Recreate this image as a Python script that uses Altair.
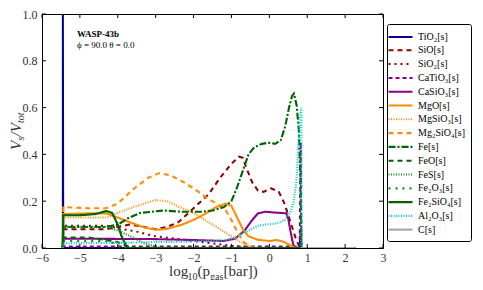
import altair as alt
import pandas as pd

names = ["TiO₂[s]", "SiO[s]", "SiO₂[s]", "CaTiO₃[s]", "CaSiO₃[s]", "MgO[s]", "MgSiO₃[s]",
         "Mg₂SiO₄[s]", "Fe[s]", "FeO[s]", "FeS[s]", "Fe₂O₃[s]", "Fe₂SiO₄[s]", "Al₂O₃[s]", "C[s]"]
colors = ["#000088", "#8b0000", "#8b0000", "#8b008b", "#8b008b", "#ff8c00", "#ff8c00",
          "#ff8c00", "#006400", "#006400", "#1a8a1a", "#1a8a1a", "#006400", "#00cccc", "#aaaaaa"]
dashes = [[1, 0], [5, 4], [2, 4], [4, 3], [1, 0], [1, 0], [1, 1.5],
          [5, 4], [7, 2, 2, 2], [5, 4], [1, 1.5], [2, 5], [1, 0], [1, 1.5], [1, 0]]
widths = [2, 2.2, 2.2, 2, 2, 2, 1.2, 2.2, 2.5, 2.2, 1.2, 1.8, 2, 1.3, 2]

x_TiO2 = [-5.45, -5.449, -5.44, 0.8, 0.83, 0.84, 0.85, 2.27]
y_TiO2 = [0, 1.0, 0, 0, 0.08, 0, 0, 0]
x_SiO = [-5.45, -5.44, -4.8, -4.3, -4.0, -3.7, -3.3, -3.0, -2.7, -2.4, -2.0, -1.6, -1.3, -1.0,
         -0.8, -0.7, -0.6, -0.45, -0.3, -0.15, 0.05, 0.25, 0.4, 0.5, 0.6, 0.7, 0.78, 0.84, 2.27]
y_SiO = [0, 0.08, 0.08, 0.08, 0.09, 0.1, 0.09, 0.08, 0.09, 0.11, 0.17, 0.23, 0.3, 0.36,
         0.39, 0.385, 0.34, 0.28, 0.245, 0.24, 0.255, 0.24, 0.19, 0.14, 0.09, 0.04, 0.01, 0, 0]
x_SiO2 = [-5.45, -5.44, -4.3, -4.0, -3.5, -3.0, -2.5, -2.0, -1.5, -1.0, -0.7, -0.5, 2.27]
y_SiO2 = [0, 0.095, 0.095, 0.085, 0.07, 0.05, 0.04, 0.03, 0.02, 0.01, 0.003, 0, 0]
x_CaTiO3 = [-5.45, -5.44, 0.75, 0.8, 0.83, 0.845, 0.86, 2.27]
y_CaTiO3 = [0, 0.006, 0.006, 0.003, 0.45, 0, 0, 0]
x_CaSiO3 = [-5.45, -5.44, -3.0, -2.0, -1.2, -0.9, -0.65, -0.45, -0.3, -0.1, 0.1, 0.3, 0.45,
            0.5, 0.56, 0.63, 0.68, 2.27]
y_CaSiO3 = [0, 0.04, 0.038, 0.034, 0.03, 0.04, 0.075, 0.12, 0.148, 0.155, 0.152, 0.15, 0.148,
            0.125, 0.07, 0.015, 0, 0]
x_MgO = [-5.45, -5.44, -4.8, -4.3, -4.0, -3.6, -3.3, -3.0, -2.7, -2.3, -2.0, -1.7, -1.4, -1.15,
         -1.0, -0.85, -0.7, -0.55, -0.3, 0.0, 0.2, 0.4, 0.55, 0.65, 0.7, 2.27]
y_MgO = [0, 0.145, 0.148, 0.148, 0.13, 0.105, 0.088, 0.078, 0.082, 0.1, 0.12, 0.145, 0.175, 0.19,
         0.18, 0.13, 0.08, 0.05, 0.035, 0.03, 0.034, 0.025, 0.012, 0.003, 0, 0]
x_MgSiO3 = [-5.45, -5.44, -4.3, -4.0, -3.5, -3.0, -2.7, -2.3, -2.0, -1.7, -1.3, -1.0, -0.8,
            -0.6, -0.4, 2.27]
y_MgSiO3 = [0, 0.13, 0.13, 0.15, 0.18, 0.205, 0.2, 0.17, 0.15, 0.12, 0.08, 0.05, 0.03,
            0.012, 0, 0]
x_Mg2SiO4 = [-5.45, -5.44, -4.8, -4.3, -4.0, -3.6, -3.2, -2.9, -2.6, -2.3, -2.0, -1.7, -1.4,
             -1.15, -1.0, -0.85, -0.7, -0.55, -0.4, 2.27]
y_Mg2SiO4 = [0, 0.175, 0.17, 0.17, 0.19, 0.25, 0.3, 0.32, 0.31, 0.285, 0.255, 0.22, 0.19,
             0.16, 0.12, 0.07, 0.03, 0.008, 0, 0]
x_Fe = [-5.45, -5.44, -4.3, -4.0, -3.7, -3.4, -3.1, -2.8, -2.3, -1.8, -1.5, -1.2, -1.0, -0.85,
        -0.7, -0.55, -0.4, -0.2, 0.0, 0.15, 0.3, 0.42, 0.52, 0.6, 0.65, 0.72, 0.78, 0.82, 0.85, 2.27]
y_Fe = [0, 0.09, 0.09, 0.1, 0.13, 0.15, 0.155, 0.16, 0.155, 0.155, 0.16, 0.175, 0.2, 0.26,
        0.33, 0.4, 0.43, 0.445, 0.45, 0.445, 0.46, 0.52, 0.6, 0.65, 0.66, 0.61, 0.5, 0.3, 0, 0]
x_FeO = [-5.45, -5.44, -4.8, -4.3, -4.0, -3.8, -3.65, 2.27]
y_FeO = [0, 0.045, 0.045, 0.035, 0.025, 0.01, 0, 0]
x_FeS = [-5.45, -5.44, -4.3, -4.0, -3.6, -3.3, -3.0, -2.8, 2.27]
y_FeS = [0, 0.09, 0.09, 0.075, 0.045, 0.02, 0.005, 0, 0]
x_Fe2O3 = [-5.45, -5.44, -4.6, -4.2, -4.0, -3.9, 2.27]
y_Fe2O3 = [0, 0.03, 0.03, 0.028, 0.012, 0, 0]
x_Fe2SiO4 = [-5.45, -5.44, -5.0, -4.6, -4.3, -4.15, -4.0, -3.9, -3.8, -3.7, 2.27]
y_Fe2SiO4 = [0, 0.14, 0.14, 0.145, 0.158, 0.15, 0.1, 0.05, 0.015, 0, 0]
x_Al2O3 = [-5.45, -5.44, -4.0, -3.0, -2.0, -1.2, -0.9, -0.6, -0.3, -0.1, 0.2, 0.4, 0.55, 0.65,
           0.72, 0.78, 0.82, 0.845, 0.85, 2.27]
y_Al2O3 = [0, 0.02, 0.022, 0.025, 0.028, 0.032, 0.045, 0.07, 0.095, 0.1, 0.105, 0.12, 0.15, 0.2,
           0.3, 0.48, 0.58, 0.6, 0, 0]
x_C = [0.84, 2.27]
y_C = [0, 0]

series_x = [x_TiO2, x_SiO, x_SiO2, x_CaTiO3, x_CaSiO3, x_MgO, x_MgSiO3, x_Mg2SiO4, x_Fe,
            x_FeO, x_FeS, x_Fe2O3, x_Fe2SiO4, x_Al2O3, x_C]
series_y = [y_TiO2, y_SiO, y_SiO2, y_CaTiO3, y_CaSiO3, y_MgO, y_MgSiO3, y_Mg2SiO4, y_Fe,
            y_FeO, y_FeS, y_Fe2O3, y_Fe2SiO4, y_Al2O3, y_C]

rows = []
for k, (n, xs, ys) in enumerate(zip(names, series_x, series_y)):
    for i, (a, b) in enumerate(zip(xs, ys)):
        rows.append({"species": n, "x": a, "y": b, "i": i, "k": k})
df = pd.DataFrame(rows)

x_ticks = [-6, -5, -4, -3, -2, -1, 0, 1, 2, 3]
y_ticks = [0.0, 0.2, 0.4, 0.6, 0.8, 1.0]
SERIF = "Liberation Serif"
GREY = "#333333"

xs_scale = alt.Scale(domain=[-6, 3], nice=False)
ys_scale = alt.Scale(domain=[0, 1], nice=False)
x_axis = alt.Axis(values=x_ticks, format="d", title=None, ticks=False, labelPadding=4,
                  labelFont=SERIF, labelFontSize=12, labelColor=GREY,
                  labelOverlap=False, labelFlush=False, labelBound=False)
y_axis = alt.Axis(values=y_ticks, format=".1f", title=None, ticks=False, labelPadding=5,
                  labelFont=SERIF, labelFontSize=12, labelColor=GREY,
                  labelOverlap=False, labelFlush=False, labelBound=False)

legend = alt.Legend(title=None, orient="none", legendX=345, legendY=10, direction="vertical",
                    labelFont=SERIF, labelFontSize=10, symbolType="M-2,0H2", symbolSize=144,
                    symbolStrokeWidth=2.2, labelOffset=10, rowPadding=0.8, strokeColor="black",
                    fillColor="white", padding=6, cornerRadius=2, labelColor="black")

lines = alt.Chart(df).mark_line(clip=True).encode(
    x=alt.X("x:Q", scale=xs_scale, axis=x_axis),
    y=alt.Y("y:Q", scale=ys_scale, axis=y_axis),
    color=alt.Color("species:N", scale=alt.Scale(domain=names, range=colors), legend=legend),
    strokeDash=alt.StrokeDash("species:N", scale=alt.Scale(domain=names, range=dashes),
                              legend=legend),
    strokeWidth=alt.StrokeWidth("species:N", scale=alt.Scale(domain=names, range=widths),
                                legend=None),
    detail="species:N",
    order="i:Q",
)

# inward ticks, matplotlib style
xt = pd.DataFrame({"t": x_ticks})
yt = pd.DataFrame({"t": y_ticks})
tick_bottom = alt.Chart(xt).mark_rule(color="black", strokeWidth=1).encode(
    x=alt.X("t:Q", scale=xs_scale, axis=x_axis), y=alt.value(234), y2=alt.value(230))
tick_top = alt.Chart(xt).mark_rule(color="black", strokeWidth=1).encode(
    x=alt.X("t:Q", scale=xs_scale, axis=x_axis), y=alt.value(0), y2=alt.value(4))
tick_left = alt.Chart(yt).mark_rule(color="black", strokeWidth=1).encode(
    y=alt.Y("t:Q", scale=ys_scale, axis=y_axis), x=alt.value(0), x2=alt.value(4))
tick_right = alt.Chart(yt).mark_rule(color="black", strokeWidth=1).encode(
    y=alt.Y("t:Q", scale=ys_scale, axis=y_axis), x=alt.value(341), x2=alt.value(337))

one = alt.Chart(pd.DataFrame({"a": [0]}))


def txt(s, x, y, size, weight="normal", style="normal", angle=0, color=GREY):
    return one.mark_text(align="left", baseline="alphabetic", font=SERIF, fontSize=size,
                         fontWeight=weight, fontStyle=style, angle=angle, color=color).encode(
        x=alt.value(x), y=alt.value(y), text=alt.value(s))


xtitle = [
    txt("log", 127, 262, 15),
    txt("10", 145.5, 265.5, 10),
    txt("(p", 155.5, 262, 15),
    txt("gas", 168, 265.5, 10),
    txt("[bar])", 181.5, 262, 15),
]
ytitle = [
    txt("V", -21, 136, 15, style="italic", angle=270),
    txt("s", -18, 126.5, 10, style="italic", angle=270),
    txt("/V", -21, 122.5, 15, style="italic", angle=270),
    txt("tot", -18, 109, 10, style="italic", angle=270),
]
ann = [
    txt("WASP-43b", 35, 23, 9, weight="bold", color="black"),
    txt("ϕ = 90.0 θ = 0.0", 35, 34, 9, color="black"),
]

chart = alt.layer(lines, tick_bottom, tick_top, tick_left, tick_right, *xtitle, *ytitle, *ann).properties(
    width=341, height=234,
    autosize=alt.AutoSizeParams(type="none"),
    padding={"left": 34, "top": 6, "right": 92, "bottom": 32},
).configure(
    font=SERIF
).configure_view(
    stroke="black", strokeWidth=1
).configure_axis(
    grid=False, domainColor="black", labelFont=SERIF, titleFont=SERIF,
)

chart.save("out.html", embed_options={"renderer": "svg", "actions": False})
